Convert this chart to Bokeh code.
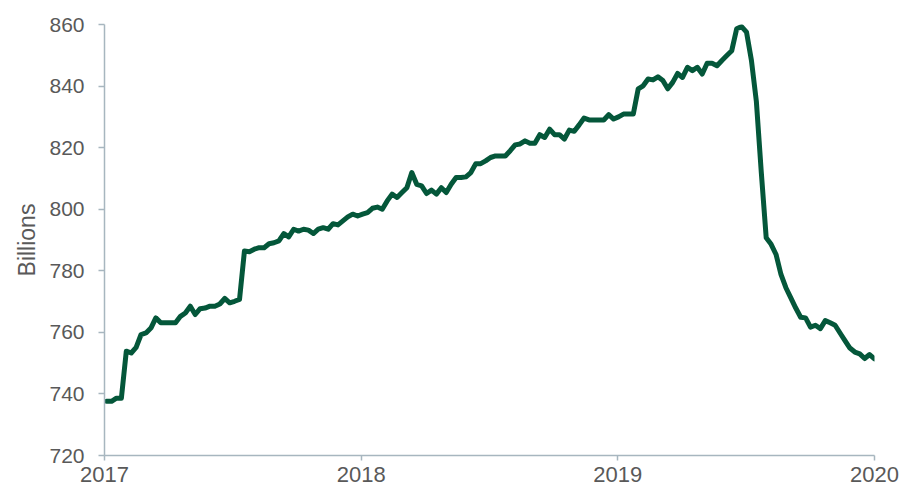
import pandas as pd
from datetime import datetime
from bokeh.plotting import figure
from bokeh.models import Range1d, FixedTicker, DatetimeTickFormatter, ColumnDataSource
from bokeh.embed import file_html
from bokeh.resources import INLINE

# weekly observations (billions), starting first Wednesday of 2017
start_date = "2017-01-04"
values = [
    737.6, 737.6, 738.6, 738.6, 753.9, 753.3, 755.1, 759.3, 759.8, 761.4,
    764.7, 763.1, 763.1, 763.1, 763.1, 765.2, 766.3, 768.5, 765.8, 767.7,
    767.9, 768.5, 768.5, 769.2, 771.0, 769.6, 770.1, 770.7, 786.4, 786.2,
    787.0, 787.5, 787.5, 788.8, 789.1, 789.7, 792.1, 791.0, 793.5, 792.9,
    793.5, 793.2, 792.1, 793.5, 794.0, 793.5, 795.3, 794.9, 796.2, 797.5,
    798.4, 797.8, 798.4, 798.9, 800.3, 800.7, 800.0, 802.7, 804.9, 803.8,
    805.4, 807.0, 811.9, 808.1, 807.6, 805.1, 806.2, 804.9, 807.0, 805.4,
    808.1, 810.3, 810.3, 810.5, 811.9, 814.8, 814.8, 815.7, 816.8, 817.3,
    817.3, 817.3, 819.0, 820.9, 821.2, 822.2, 821.4, 821.4, 824.2, 823.3,
    826.0, 824.2, 824.2, 822.8, 825.7, 825.3, 827.4, 829.6, 829.0, 829.0,
    829.0, 829.0, 830.7, 829.3, 830.0, 830.9, 830.9, 830.9, 839.1, 840.1,
    842.3, 842.0, 843.0, 841.8, 839.1, 841.2, 844.1, 842.8, 846.1, 845.0,
    846.1, 843.9, 847.4, 847.4, 846.6, 848.3, 849.9, 851.5, 858.6, 859.3,
    857.5, 848.3, 835.0, 812.0, 790.7, 788.6, 785.3, 778.8, 774.5, 771.2,
    767.9, 764.9, 764.7, 761.7, 762.3, 761.2, 763.8, 763.1, 762.3, 759.8,
    757.3, 754.9, 753.6, 753.0, 751.5, 752.8, 751.4,
]
dates = pd.date_range(start_date, periods=len(values), freq="7D")

year_ticks = [2017, 2018, 2019, 2020]
y_ticks = [720, 740, 760, 780, 800, 820, 840, 860]
y_label = "Billions"

LINE = "#04573A"
AXIS = "#A7B6BF"
TEXT = "#595959"
FONT = "Liberation Sans"

source = ColumnDataSource(dict(date=dates, value=values))

p = figure(
    width=901, height=491,
    x_axis_type="datetime",
    output_backend="svg", toolbar_location=None,
    x_range=Range1d(datetime(year_ticks[0], 1, 1), datetime(year_ticks[-1], 1, 1)),
    y_range=Range1d(y_ticks[0], y_ticks[-1]),
    min_border_left=104, min_border_right=27, min_border_top=24, min_border_bottom=36,
)
p.outline_line_color = None
p.xgrid.visible = False
p.ygrid.visible = False
p.background_fill_color = "white"
p.border_fill_color = "white"

p.line("date", "value", source=source, line_color=LINE, line_width=5,
       line_join="round", line_cap="round")

tick_ms = [pd.Timestamp(datetime(y, 1, 1)).value // 10**6 for y in year_ticks]
p.xaxis.ticker = FixedTicker(ticks=tick_ms)
p.xaxis.formatter = DatetimeTickFormatter(
    years="%Y", months="%Y", days="%Y", hours="%Y", minutes="%Y",
    seconds="%Y", milliseconds="%Y", microseconds="%Y",
)
p.yaxis.ticker = FixedTicker(ticks=y_ticks)
p.yaxis.axis_label = y_label

for ax in (p.xaxis, p.yaxis):
    ax.axis_line_color = AXIS
    ax.axis_line_width = 1.5
    ax.major_tick_line_color = AXIS
    ax.major_tick_line_width = 1.5
    ax.minor_tick_line_color = None
    ax.major_label_text_color = TEXT
    ax.major_label_text_font = FONT
    ax.major_label_text_font_size = "21px"
    ax.axis_label_text_color = TEXT
    ax.axis_label_text_font = FONT
    ax.axis_label_text_font_size = "23px"
    ax.axis_label_text_font_style = "normal"

p.xaxis.major_label_text_font_size = "22px"
p.xaxis.major_tick_in = 0
p.xaxis.major_tick_out = 5
p.xaxis.major_label_standoff = 6
p.yaxis.major_tick_in = 0
p.yaxis.major_tick_out = 6
p.yaxis.major_label_standoff = 14
p.yaxis.axis_label_standoff = 6

open("out.html", "w").write(file_html(p, INLINE))
